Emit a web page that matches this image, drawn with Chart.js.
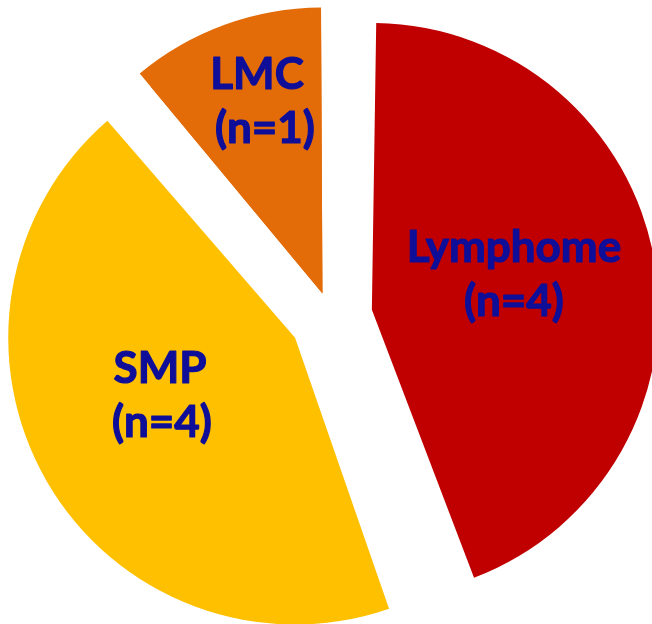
<!DOCTYPE html>
<html>
<head>
<meta charset="utf-8">
<script src="https://cdn.jsdelivr.net/npm/chart.js@4.4.1/dist/chart.umd.min.js"></script>
<style>
  html, body { margin: 0; padding: 0; background: #fff; }
  #wrap { width: 652px; height: 624px; position: relative; }
  #wrap canvas { position: absolute; left: 0; top: 0; }
</style>
</head>
<body>
<div id="wrap">
  <canvas id="chart1"></canvas>
</div>
<div id="wrap2" style="width:652px;height:624px;position:absolute;left:0;top:0;">
  <canvas id="chart2"></canvas>
</div>
<script>
// data
const categories = ['Lymphome', 'SMP', 'LMC'];
const counts = [4, 4, 1];
const sliceColors = ['#C00000', '#FFC000', '#E36C09'];

// label text, two lines per slice
const labelLines = categories.map((c, i) => [c, '(n=' + counts[i] + ')']);
// where each label sits on the canvas (center of each line, baseline)
const labelSpots = [
  [[514, 262], [514, 316]],
  [[160, 383], [162, 437]],
  [[257, 89], [265, 143]]
];

const sliceLabels = {
  id: 'sliceLabels',
  afterDatasetsDraw(chart) {
    const ctx = chart.ctx;
    ctx.save();
    ctx.font = 'bold 44px Lato, "Open Sans", sans-serif';
    ctx.fillStyle = '#0e0e98';
    ctx.strokeStyle = '#0e0e98';
    ctx.lineWidth = 1.2;
    ctx.lineJoin = 'round';
    ctx.textAlign = 'center';
    ctx.textBaseline = 'alphabetic';
    labelLines.forEach((lines, i) => {
      lines.forEach((txt, j) => {
        const p = labelSpots[i][j];
        ctx.fillText(txt, p[0], p[1]);
        ctx.strokeText(txt, p[0], p[1]);
      });
    });
    ctx.restore();
  }
};

function pieOptions(radius) {
  return {
    responsive: true,
    maintainAspectRatio: false,
    animation: false,
    radius: radius,
    layout: { padding: { left: 10, top: 10, right: 0, bottom: 0 } },
    plugins: {
      legend: { display: false },
      tooltip: { enabled: false }
    }
  };
}

// the big slices
new Chart(document.getElementById('chart1'), {
  type: 'pie',
  data: {
    labels: categories,
    datasets: [{
      data: counts,
      backgroundColor: sliceColors,
      borderWidth: 0,
      offset: [166, 166, 100]
    }]
  },
  options: pieOptions(259.5)
});

// the small LMC slice is exploded less, so it gets its own layer to keep the same outer radius
new Chart(document.getElementById('chart2'), {
  type: 'pie',
  data: {
    labels: categories,
    datasets: [{
      data: counts,
      backgroundColor: sliceColors.map((c, i) => i === 2 ? c : 'rgba(0,0,0,0)'),
      borderWidth: 0,
      offset: [166, 166, 100]
    }]
  },
  options: pieOptions(277),
  plugins: [sliceLabels]
});
</script>
</body>
</html>
